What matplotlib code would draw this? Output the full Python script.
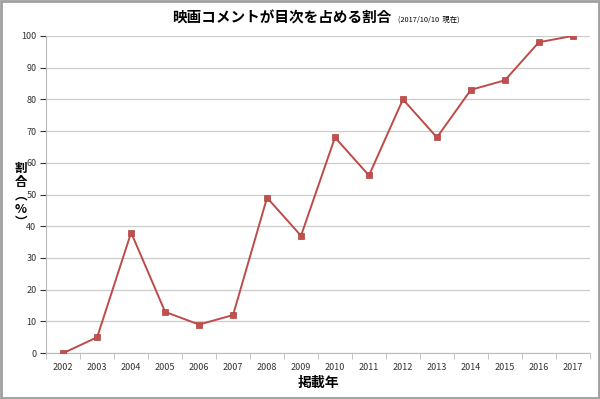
import matplotlib
matplotlib.use("Agg")
import matplotlib.pyplot as plt
from matplotlib.patches import Rectangle

plt.rcParams['font.family'] = ['Noto Sans CJK JP', 'DejaVu Sans']

years = ['2002', '2003', '2004', '2005', '2006', '2007', '2008', '2009',
         '2010', '2011', '2012', '2013', '2014', '2015', '2016', '2017']
ratio = [0, 5, 38, 13, 9, 12, 49, 37, 68, 56, 80, 68, 83, 86, 98, 100]

fig = plt.figure(figsize=(6, 3.99), dpi=100)
ax = fig.add_axes([0.077, 0.115, 0.906, 0.795])

x = list(range(len(years)))
ax.plot(x, ratio, color='#BE4B48', lw=1.4, marker='s', markersize=5,
        markerfacecolor='#C0504D', markeredgecolor='#B0403D', markeredgewidth=0.5,
        zorder=3)

ax.set_xlim(-0.5, len(years) - 0.5)
ax.set_ylim(0, 100)
ax.set_yticks(range(0, 101, 10))
ax.set_xticks(x)
ax.set_xticklabels(years)
ax.set_xticks([i - 0.5 for i in range(len(years) + 1)], minor=True)
ax.tick_params(axis='x', which='major', length=0, labelsize=6.5, pad=7, colors='#333333')
ax.tick_params(axis='x', which='minor', length=4, color='#BBBBBB', direction='out')
ax.tick_params(axis='y', length=4, labelsize=6.5, colors='#333333', pad=3)
for t in ax.yaxis.get_ticklines():
    t.set_color('#BBBBBB')

ax.grid(axis='y', color='#CCCCCC', lw=0.9)
ax.set_axisbelow(True)
for s in ['top', 'right']:
    ax.spines[s].set_visible(False)
ax.spines['left'].set_color('#BBBBBB')
ax.spines['bottom'].set_color('#BBBBBB')

ax.set_xlabel('掲載年', fontsize=10, fontweight='bold', labelpad=3)
fig.text(0.035, 0.51, '割\n合\n︵\n%\n︶', fontsize=9, fontweight='bold',
         ha='center', va='center', linespacing=1.05)

fig.text(0.47, 0.955, '映画コメントが目次を占める割合', fontsize=10.5,
         fontweight='bold', ha='center', va='center')
fig.text(0.663, 0.952, '(2017/10/10  現在)', fontsize=5.3, ha='left', va='center')

fig.patches.append(Rectangle((0.002, 0.003), 0.996, 0.994, transform=fig.transFigure,
                             fill=False, edgecolor='#A0A0A0', lw=2))

fig.savefig('out.png', dpi=100)
